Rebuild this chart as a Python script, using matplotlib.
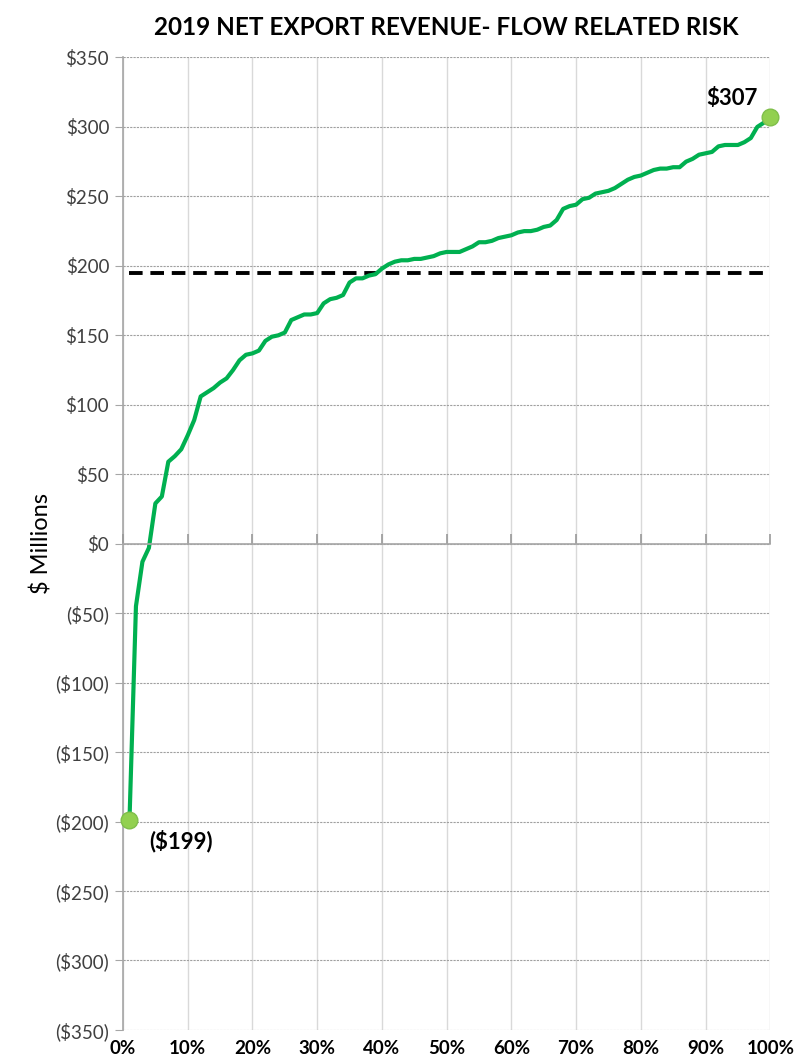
import matplotlib.pyplot as plt
import numpy as np

plt.rcParams['font.family'] = ['Lato', 'DejaVu Sans']

# percentile of outcomes vs net export revenue ($ millions)
pct = list(range(1, 101))
revenue = [-199, -45, -13, -3, 29, 34, 59, 63, 68, 78,
           89, 106, 109, 112, 116, 119, 125, 132, 136, 137,
           139, 146, 149, 150, 152, 161, 163, 165, 165, 166,
           173, 176, 177, 179, 188, 191, 191, 193, 194, 198,
           201, 203, 204, 204, 205, 205, 206, 207, 209, 210,
           210, 210, 212, 214, 217, 217, 218, 220, 221, 222,
           224, 225, 225, 226, 228, 229, 233, 241, 243, 244,
           248, 249, 252, 253, 254, 256, 259, 262, 264, 265,
           267, 269, 270, 270, 271, 271, 275, 277, 280, 281,
           282, 286, 287, 287, 287, 289, 292, 300, 303, 307]
target = 195
yticks = list(range(-350, 351, 50))
xticks = list(range(0, 101, 10))


def money(v):
    return '($%d)' % abs(v) if v < 0 else '$%d' % v


fig = plt.figure(figsize=(8.04, 10.64), dpi=100)
ax = fig.add_axes([0.153, 0.032, 0.805, 0.914])

ax.set_xlim(0, 100)
ax.set_ylim(-350, 350)

# grid
ax.set_yticks(yticks)
ax.set_yticklabels([money(v) for v in yticks], fontsize=13.5, color='#404040')
ax.set_xticks(xticks)
ax.set_xticklabels(['%d%%' % v for v in xticks], fontsize=13.5, fontweight='bold')
ax.grid(axis='y', color='#a0a0a0', linestyle=(0, (2, 1)), linewidth=0.8)
ax.grid(axis='x', color='#d9d9d9', linestyle='-', linewidth=1.0)
ax.set_axisbelow(True)

for s in ['top', 'right', 'bottom']:
    ax.spines[s].set_visible(False)
ax.spines['left'].set_color('#a6a6a6')
ax.spines['left'].set_linewidth(1.2)
ax.tick_params(axis='y', length=6, color='#a6a6a6', pad=4)
ax.tick_params(axis='x', length=0, pad=7)

# horizontal axis crossing at zero with its tick marks
sec = ax.secondary_xaxis(0.5)
sec.set_xticks(xticks)
sec.set_xticklabels([])
sec.tick_params(length=7, width=1.2, color='#999999', direction='out')
for sp in sec.spines.values():
    sp.set_color('#a6a6a6')
    sp.set_linewidth(1.2)
sec.set_zorder(6)

# curve and target line
ax.hlines(target, pct[0], pct[-1], colors='black', linestyles=(0, (3.5, 2)),
          linewidth=2.8, zorder=3)
ax.plot(pct, revenue, color='#00b050', linewidth=3, zorder=4)
ax.plot([pct[0], pct[-1]], [revenue[0], revenue[-1]], 'o', markersize=12,
        markerfacecolor='#92d050', markeredgecolor='#7fbf4a', zorder=5,
        clip_on=False)

ax.annotate(money(revenue[0]), xy=(pct[0], revenue[0]), xytext=(14, -7),
            textcoords='offset points', ha='left', va='top',
            fontsize=16, fontweight='bold')
ax.annotate(money(revenue[-1]), xy=(pct[-1], revenue[-1]), xytext=(-9, 6),
            textcoords='offset points', ha='right', va='bottom',
            fontsize=16, fontweight='bold')

ax.set_ylabel('$ Millions', fontsize=17, labelpad=2)
ax.set_title('2019 NET EXPORT REVENUE- FLOW RELATED RISK', fontsize=17.5,
             fontweight='bold', pad=16)

plt.savefig('out.png', dpi=100)
